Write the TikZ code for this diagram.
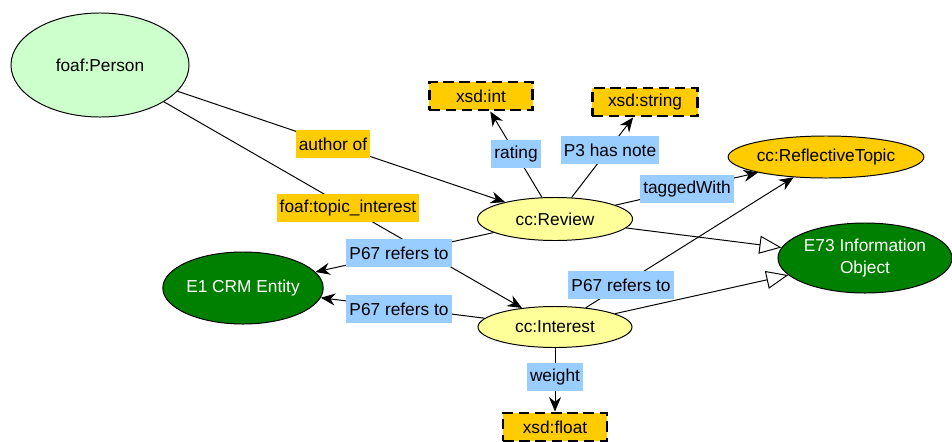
\documentclass[tikz,border=0pt]{standalone}
\usepackage{fontspec}
\setmainfont{Liberation Sans}
\usetikzlibrary{shapes.geometric,arrows.meta}
\definecolor{persongreen}{HTML}{CCFFCC}
\definecolor{classyellow}{HTML}{FFFF99}
\definecolor{topicorange}{HTML}{FFCC00}
\definecolor{crmgreen}{HTML}{008000}
\definecolor{propblue}{HTML}{99CCFF}

\begin{document}
\begin{tikzpicture}[x=0.025cm,y=-0.025cm,
  font=\fontsize{12.3}{15.5}\selectfont,
  cls/.style={ellipse,draw=black,line width=0.7pt,inner sep=0pt},
  dtype/.style={rectangle,draw=black,fill=topicorange,line width=1.8pt,dash pattern=on 7.5pt off 4pt,minimum height=0.71cm,inner sep=0pt},
  prop/.style={rectangle,fill=propblue,inner sep=0pt,inner xsep=0.08cm,minimum height=0.68cm},
  orprop/.style={prop,fill=topicorange},
  rel/.style={line width=0.7pt,-{Stealth[length=0.36cm,width=0.3cm]}},
  sub/.style={line width=0.7pt,-{Triangle[open,length=0.55cm,width=0.45cm,fill=white]}}
]
\useasboundingbox[fill=white] (0,0) rectangle (952,441);

% classes
\node[cls,fill=persongreen,minimum width=4.45cm,minimum height=2.6cm] (person) at (100,65) {foaf:Person};
\node[cls,fill=classyellow,minimum width=3.875cm,minimum height=1.075cm] (review) at (555,219) {cc:Review};
\node[cls,fill=classyellow,minimum width=3.85cm,minimum height=1.025cm] (interest) at (555,327) {cc:Interest};
\node[cls,fill=topicorange,minimum width=4.25cm,minimum height=1.05cm] (topic) at (826,157) {cc:ReflectiveTopic};
\node[cls,fill=crmgreen,text=white,align=center,minimum width=4.35cm,minimum height=1.75cm] (infoobj) at (865,258) {E73 Information\\Object};
\node[cls,fill=crmgreen,text=white,minimum width=3.9cm,minimum height=1.8cm] (entity) at (243,288) {E1 CRM Entity};

% datatypes
\node[dtype,minimum width=2.575cm] (int) at (481,96) {xsd:int};
\node[dtype,minimum width=2.625cm] (string) at (645,102) {xsd:string};
\node[dtype,minimum width=2.6cm] (float) at (555,427) {xsd:float};

% links
\draw[rel] (person) -- (review);
\draw[rel] (person) -- (interest);
\draw[rel] (review) -- (int);
\draw[rel] (review) -- (string);
\draw[rel] (review) -- (topic);
\draw[rel] (review) -- (entity);
\draw[rel] (interest) -- (entity);
\draw[rel] (interest) -- (topic);
\draw[rel] (interest) -- (float);
\draw[sub] (review) -- (infoobj);
\draw[sub] (interest) -- (infoobj);

% property labels
\node[orprop] (authorof) at (333,144) {author of};
\node[orprop] (topicint) at (348,208) {foaf:topic\_interest};
\node[prop] (rating) at (516,154) {rating};
\node[prop] (hasnote) at (610,150) {P3 has note};
\node[prop] (tagged) at (687,189) {taggedWith};
\node[prop] (refersrev) at (399,253) {P67 refers to};
\node[prop] (refersint) at (399,309) {P67 refers to};
\node[prop] (referstopic) at (621,285) {P67 refers to};
\node[prop] (weight) at (555,377) {weight};

\end{tikzpicture}
\end{document}
